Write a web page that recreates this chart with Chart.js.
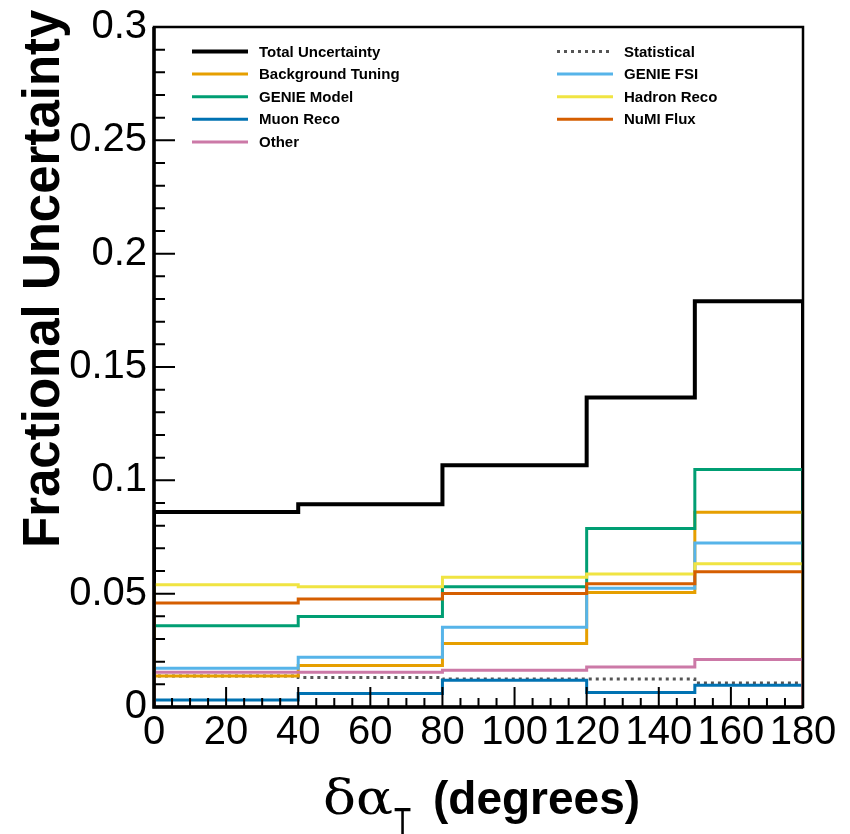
<!DOCTYPE html>
<html lang="en">
<head>
  <meta charset="UTF-8" />
  <title>Fractional Uncertainty vs delta alpha T</title>
  <script src="https://cdn.jsdelivr.net/npm/chart.js"></script>
  <style>
    body { margin: 0; background: #fff; }
    #wrap { width: 850px; height: 834px; }
  </style>
</head>
<body>
  <div id="wrap"><canvas id="uncChart" width="850" height="834"></canvas></div>

  <script>
    // bin edges in degrees, one value per bin for each source
    const binEdges = [0, 40, 80, 120, 150, 180];

    const totalUnc   = [0.0860, 0.0895, 0.1067, 0.1365, 0.1790];
    const statUnc    = [0.0137, 0.0130, 0.0123, 0.0123, 0.0106];
    const bkgTuning  = [0.0137, 0.0183, 0.0280, 0.0505, 0.0859];
    const genieFsi   = [0.0171, 0.0219, 0.0352, 0.0524, 0.0724];
    const genieModel = [0.0358, 0.0399, 0.0530, 0.0787, 0.1048];
    const hadronReco = [0.0539, 0.0530, 0.0572, 0.0587, 0.0632];
    const muonReco   = [0.0031, 0.0060, 0.0118, 0.0064, 0.0096];
    const numiFlux   = [0.0459, 0.0476, 0.0501, 0.0544, 0.0597];
    const otherUnc   = [0.0153, 0.0153, 0.0162, 0.0177, 0.0210];

    const yTicks = [0, 0.05, 0.1, 0.15, 0.2, 0.25, 0.3];
    const xTicks = [0, 20, 40, 60, 80, 100, 120, 140, 160, 180];

    const FONT = '"Liberation Sans", Arial, Helvetica, sans-serif';

    // histogram outline: start at 0, step through bins, drop back to 0
    function histPoints(vals) {
      const pts = [{ x: binEdges[0], y: 0 }];
      vals.forEach((v, i) => pts.push({ x: binEdges[i], y: v }));
      pts.push({ x: binEdges[binEdges.length - 1], y: vals[vals.length - 1] });
      pts.push({ x: binEdges[binEdges.length - 1], y: 0 });
      return pts;
    }

    const series = [
      { label: 'Total Uncertainty', data: totalUnc,   color: '#000000', width: 4 },
      { label: 'Statistical',       data: statUnc,    color: '#555555', width: 3, dash: [3, 4] },
      { label: 'Background Tuning', data: bkgTuning,  color: '#E69F00', width: 3 },
      { label: 'GENIE FSI',         data: genieFsi,   color: '#56B4E9', width: 3 },
      { label: 'GENIE Model',       data: genieModel, color: '#009E73', width: 3 },
      { label: 'Hadron Reco',       data: hadronReco, color: '#F0E442', width: 3 },
      { label: 'Muon Reco',         data: muonReco,   color: '#0072B2', width: 3 },
      { label: 'NuMI Flux',         data: numiFlux,   color: '#D55E00', width: 3 },
      { label: 'Other',             data: otherUnc,   color: '#CC79A7', width: 3 }
    ];

    // ROOT-like frame, inner ticks, legend and axis titles
    const rootStyle = {
      id: 'rootStyle',
      afterDraw(chart) {
        const { ctx, chartArea: a, scales: { x, y } } = chart;
        ctx.save();
        ctx.strokeStyle = '#000';
        ctx.lineCap = 'butt';

        // ticks
        ctx.lineWidth = 2;
        ctx.beginPath();
        for (let v = 0; v <= 180; v += 5) {
          const px = x.getPixelForValue(v);
          const len = v % 20 === 0 ? 20 : 9;
          ctx.moveTo(px, a.bottom);
          ctx.lineTo(px, a.bottom - len);
        }
        for (let k = 0; k <= 30; k++) {
          const py = y.getPixelForValue(k / 100);
          const len = k % 5 === 0 ? 21 : 11;
          ctx.moveTo(a.left, py);
          ctx.lineTo(a.left + len, py);
        }
        ctx.stroke();

        // frame
        ctx.lineWidth = 2.5;
        ctx.strokeRect(a.left, a.top, a.right - a.left, a.bottom - a.top);
        ctx.lineWidth = 3.5;
        ctx.beginPath();
        ctx.moveTo(a.left, a.top);
        ctx.lineTo(a.left, a.bottom);
        ctx.lineTo(a.right, a.bottom);
        ctx.stroke();

        // legend, two columns filled row by row
        ctx.font = 'bold 15px ' + FONT;
        ctx.textBaseline = 'middle';
        ctx.textAlign = 'left';
        chart.data.datasets.forEach((ds, i) => {
          const col = i % 2, row = Math.floor(i / 2);
          const lx = col === 0 ? 192 : 557;
          const ly = 51.5 + row * 22.6;
          ctx.strokeStyle = ds.borderColor;
          ctx.lineWidth = ds.borderWidth;
          ctx.setLineDash(ds.borderDash || []);
          ctx.beginPath();
          ctx.moveTo(lx, ly);
          ctx.lineTo(lx + 56, ly);
          ctx.stroke();
          ctx.setLineDash([]);
          ctx.fillStyle = '#000';
          ctx.fillText(ds.label, lx + 67, ly + 1);
        });

        // y title
        ctx.fillStyle = '#000';
        ctx.save();
        ctx.translate(59, 548);
        ctx.rotate(-Math.PI / 2);
        ctx.font = 'bold 51px ' + FONT;
        ctx.textBaseline = 'alphabetic';
        ctx.fillText('Fractional Uncertainty', 0, 0);
        ctx.restore();

        // x title: delta alpha_T (degrees)
        ctx.textBaseline = 'alphabetic';
        ctx.save();
        ctx.font = '48px "DejaVu Serif", "Liberation Serif", serif';
        const gw = ctx.measureText('δα').width;
        ctx.translate(323, 814);
        ctx.scale(70 / gw, 1);
        ctx.fillText('δα', 0, 0);
        ctx.restore();
        ctx.save();
        ctx.font = '40px ' + FONT;
        ctx.translate(394, 836);
        ctx.scale(0.7, 1);
        ctx.fillText('T', 0, 0);
        ctx.restore();
        ctx.font = 'bold 46px ' + FONT;
        ctx.fillText('(degrees)', 433, 814);

        ctx.restore();
      }
    };

    new Chart(document.getElementById('uncChart'), {
      type: 'line',
      data: {
        datasets: series.map((s, i) => ({
          label: s.label,
          data: histPoints(s.data),
          borderColor: s.color,
          backgroundColor: s.color,
          borderWidth: s.width,
          borderDash: s.dash || [],
          stepped: 'before',
          pointRadius: 0,
          fill: false,
          order: series.length - i
        }))
      },
      options: {
        responsive: false,
        animation: false,
        layout: { padding: { top: 22, right: 47, bottom: 0, left: 0 } },
        plugins: {
          legend: { display: false },
          tooltip: { enabled: false }
        },
        scales: {
          x: {
            type: 'linear',
            min: 0,
            max: 180,
            afterBuildTicks: s => { s.ticks = xTicks.map(v => ({ value: v })); },
            afterFit: s => { s.height = 127; },
            grid: { display: false, drawTicks: false },
            border: { display: false },
            ticks: {
              autoSkip: false,
              maxRotation: 0,
              minRotation: 0,
              padding: 6,
              color: '#000',
              font: { family: FONT, size: 40, lineHeight: 1 },
              callback: v => String(v)
            }
          },
          y: {
            type: 'linear',
            min: 0,
            max: 0.3,
            afterBuildTicks: s => { s.ticks = yTicks.map(v => ({ value: v })); },
            afterFit: s => { s.width = 154; },
            grid: { display: false, drawTicks: false },
            border: { display: false },
            ticks: {
              padding: 7,
              color: '#000',
              font: { family: FONT, size: 40, lineHeight: 1 },
              callback: v => String(v)
            }
          }
        }
      },
      plugins: [rootStyle]
    });
  </script>
</body>
</html>
